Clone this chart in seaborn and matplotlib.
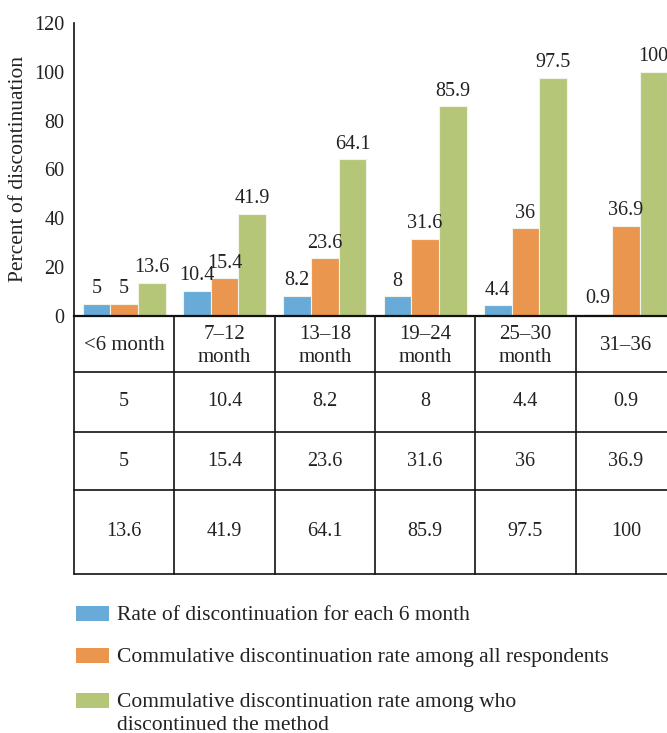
import matplotlib
matplotlib.use("Agg")
import matplotlib.pyplot as plt
from matplotlib.patches import Rectangle
import seaborn as sns
import pandas as pd

# Data
periods = ["<6 month", "7–12\nmonth", "13–18\nmonth", "19–24\nmonth", "25–30\nmonth", "31–36"]
series_names = [
    "Rate of discontinuation for each 6 month",
    "Commulative discontinuation rate among all respondents",
    "Commulative discontinuation rate among who\ndiscontinued the method",
]
rate_each_6m = [5, 10.4, 8.2, 8, 4.4, 0.9]
cum_all_respondents = [5, 15.4, 23.6, 31.6, 36, 36.9]
cum_discontinued = [13.6, 41.9, 64.1, 85.9, 97.5, 100]
y_ticks = [0, 20, 40, 60, 80, 100, 120]

colors = ["#68ABD8", "#EA964F", "#B5C679"]
FS_NUM = 14.5
FS_WORD = 15.5
TXT = "#222222"

sns.set_theme(style="white")
plt.rcParams["font.family"] = ["Liberation Serif", "DejaVu Serif"]

series_values = [rate_each_6m, cum_all_respondents, cum_discontinued]
df = pd.DataFrame({
    "period": [p for _ in series_names for p in periods],
    "series": [s for s in series_names for _ in periods],
    "value": [v for vals in series_values for v in vals],
})

W, H = 667, 733
fig = plt.figure(figsize=(W / 100, H / 100), dpi=100)

# Bar chart
ax = fig.add_axes([74 / W, 417 / H, 602 / W, 293 / H])
sns.barplot(
    data=df, x="period", y="value", hue="series",
    order=periods, hue_order=series_names, palette=colors,
    width=0.83, saturation=1, edgecolor="#f3f3ea", linewidth=0.8,
    legend=False, ax=ax,
)
for cont in ax.containers:
    ax.bar_label(cont, fmt="%g", padding=4, fontsize=FS_NUM, color=TXT)

ax.set_xlim(-0.5, len(periods) - 0.5)
ax.set_ylim(0, 120)
ax.set_yticks(y_ticks)
ax.tick_params(axis="y", labelsize=FS_NUM, length=0, pad=7, colors=TXT)
ax.set_xticks([])
ax.set_xlabel("")
ax.set_ylabel("Percent of discontinuation", fontsize=FS_WORD, color=TXT, labelpad=4)
for side in ["top", "right"]:
    ax.spines[side].set_visible(False)
ax.spines["left"].set_color("#111111")
ax.spines["left"].set_linewidth(1.2)
ax.spines["bottom"].set_color("#111111")
ax.spines["bottom"].set_linewidth(1.6)

# Data table under the bars
tab = fig.add_axes([74 / W, 159 / H, 602 / W, 258 / H])
tab.set_xlim(ax.get_xlim())
tab.set_ylim(258, 0)
tab.axis("off")
row_edges = [0, 56, 116, 174, 258]
n = len(periods)
for y in row_edges[1:]:
    tab.plot([-0.5, n - 0.5], [y, y], color="#111111", lw=1.2, clip_on=False)
for i in range(n + 1):
    tab.plot([i - 0.5, i - 0.5], [0, row_edges[-1]], color="#111111", lw=1.2, clip_on=False)

for i, txt in enumerate(periods):
    tab.text(i, (row_edges[0] + row_edges[1]) / 2 + 2, txt, ha="center", va="center",
             fontsize=15, color=TXT, linespacing=1.25)
for r, vals in enumerate(series_values, start=1):
    yc = (row_edges[r] + row_edges[r + 1]) / 2
    for i, v in enumerate(vals):
        tab.text(i, yc, f"{v:g}", ha="center", va="center", fontsize=FS_NUM, color=TXT)

# Legend
legend_y = [613, 655, 700]
for color, name, yc in zip(colors, series_names, legend_y):
    fig.patches.append(Rectangle((76 / W, 1 - (yc + 7.5) / H), 33 / W, 15 / H,
                                 transform=fig.transFigure, facecolor=color,
                                 edgecolor="none"))
    fig.text(117 / W, 1 - (yc - 7) / H, name, ha="left", va="top",
             fontsize=FS_WORD, color=TXT, linespacing=1.25)

fig.savefig("out.png", dpi=100)
